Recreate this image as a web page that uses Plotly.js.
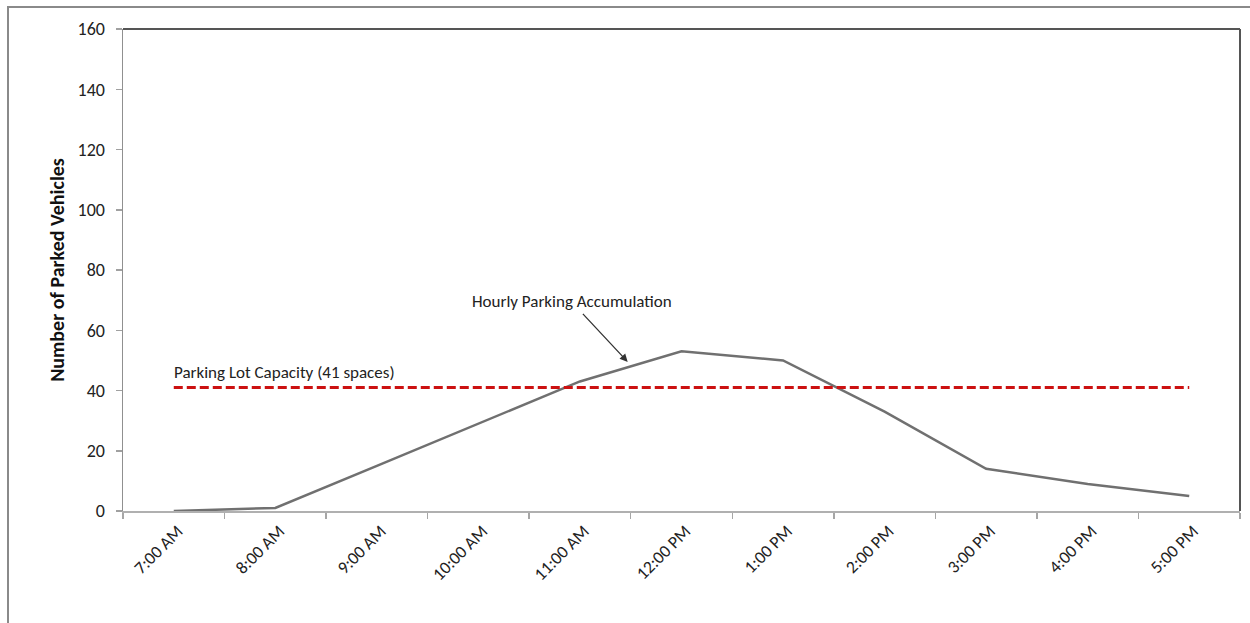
<!DOCTYPE html>
<html>
<head>
<meta charset="utf-8">
<script src="https://cdn.plot.ly/plotly-3.0.1.min.js"></script>
<style>
  html, body { margin: 0; padding: 0; background: #fff; }
  #wrap { position: relative; width: 1250px; height: 623px; overflow: hidden; }
  #chart { position: absolute; left: 0; top: 0; width: 1250px; height: 623px; }
  #frame { position: absolute; left: 7px; top: 6px; width: 1300px; height: 700px;
           border: 2px solid #8a8a8a; pointer-events: none; }
</style>
</head>
<body>
<div id="wrap">
  <div id="chart"></div>
  <div id="frame"></div>
</div>
<script>
// ---- data ----
const times = ["7:00 AM", "8:00 AM", "9:00 AM", "10:00 AM", "11:00 AM", "12:00 PM",
               "1:00 PM", "2:00 PM", "3:00 PM", "4:00 PM", "5:00 PM"];
const parkedVehicles = [0, 1, 15, 29, 43, 53, 50, 33, 14, 9, 5];
const lotCapacity = 41;
const capacityLabel = "Parking Lot Capacity (41 spaces)";
const seriesLabel = "Hourly Parking Accumulation";
const yTitle = "Number of Parked Vehicles";

const font = "Carlito, 'Liberation Sans Narrow', 'Liberation Sans', Arial, sans-serif";

const traces = [{
  type: "scatter",
  mode: "lines",
  x: times,
  y: parkedVehicles,
  line: { color: "#707070", width: 2.5 },
  hoverinfo: "x+y",
  showlegend: false
}];

const layout = {
  width: 1250,
  height: 623,
  margin: { l: 123, r: 10, t: 29, b: 112 },
  paper_bgcolor: "#ffffff",
  plot_bgcolor: "#ffffff",
  font: { family: font, color: "#222", size: 16 },
  showlegend: false,
  xaxis: {
    type: "category",
    range: [-0.5, times.length - 0.5],
    tickson: "boundaries",
    ticks: "outside",
    ticklen: 6,
    tickwidth: 1.5,
    tickcolor: "#a6a6a6",
    tickangle: -45,
    ticklabelstandoff: 1,
    ticklabelshift: 4,
    tickfont: { family: font, size: 17.5, color: "#222" },
    showline: true,
    linecolor: "#b0b0b0",
    linewidth: 2,
    showgrid: false,
    zeroline: false,
    fixedrange: true
  },
  yaxis: {
    range: [0, 160],
    dtick: 20,
    tick0: 0,
    ticks: "outside",
    ticklen: 6,
    tickwidth: 1.5,
    tickcolor: "#a0a0a0",
    ticklabelstandoff: 7,
    tickfont: { family: font, size: 18, color: "#222" },
    showline: true,
    linecolor: "#909090",
    linewidth: 1.5,
    showgrid: false,
    zeroline: false,
    fixedrange: true,
    title: {
      text: yTitle,
      font: { family: font, size: 20, color: "#111", weight: "bold" },
      standoff: 7
    }
  },
  shapes: [
    // capacity line
    {
      type: "line", xref: "x", yref: "y",
      x0: times[0], x1: times[times.length - 1],
      y0: lotCapacity, y1: lotCapacity,
      line: { color: "#cc1111", width: 3, dash: "9px,4px" }
    },
    // plot area top and right border
    {
      type: "line", xref: "paper", yref: "paper",
      x0: 0, x1: 1, y0: 1, y1: 1,
      line: { color: "#555555", width: 2 }
    },
    {
      type: "line", xref: "paper", yref: "paper",
      x0: 1, x1: 1, y0: 0, y1: 1,
      line: { color: "#555555", width: 2 }
    }
  ],
  annotations: [
    {
      x: times[0], y: lotCapacity, xref: "x", yref: "y",
      text: capacityLabel, showarrow: false,
      xanchor: "left", yanchor: "bottom", yshift: 2, xshift: -2,
      font: { family: font, size: 17, color: "#222" }
    },
    {
      x: 4.47, y: 49.5, xref: "x", yref: "y",
      text: seriesLabel, showarrow: true,
      ax: -56, ay: -60, axref: "pixel", ayref: "pixel",
      arrowhead: 2, arrowsize: 1.2, arrowwidth: 1.3, arrowcolor: "#333",
      font: { family: font, size: 17, color: "#222" }
    }
  ]
};

Plotly.newPlot("chart", traces, layout, { displayModeBar: false, staticPlot: true });
</script>
</body>
</html>
